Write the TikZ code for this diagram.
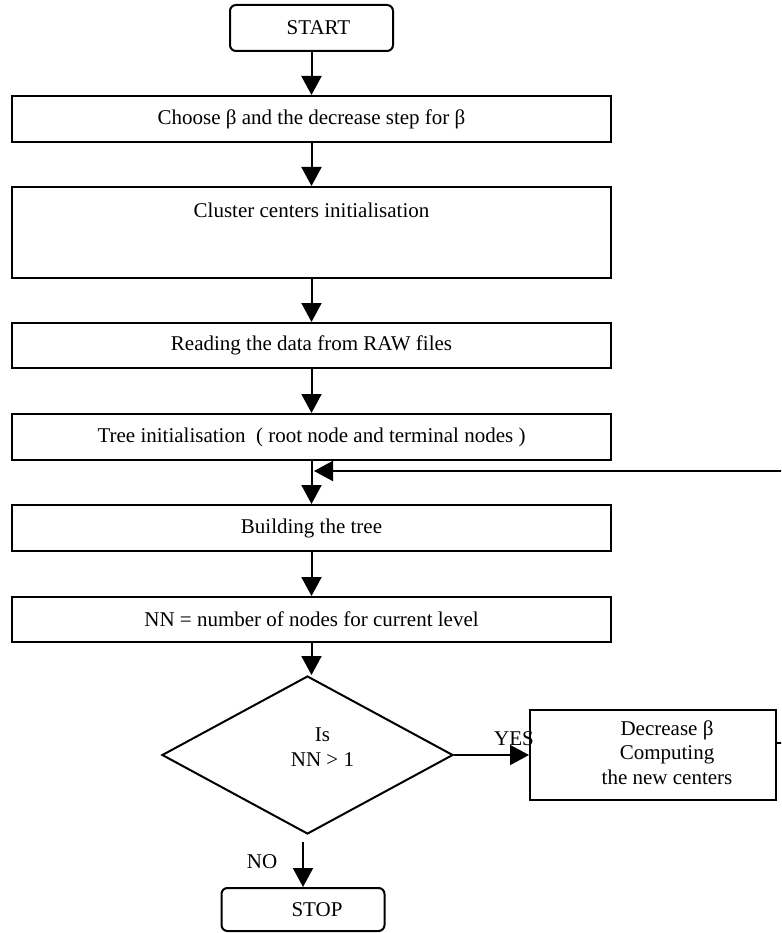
\documentclass[tikz,border=0pt]{standalone}
\usepackage{fontspec}
\setmainfont{Liberation Serif}
\usetikzlibrary{arrows.meta,shapes.geometric}
\begin{document}
\begin{tikzpicture}[x=1pt,y=-1pt,
  every node/.style={font=\fontsize{21}{24.5}\selectfont},
  procbox/.style={draw,line width=2pt,rectangle,inner sep=0pt,minimum width=599pt},
  termbox/.style={draw,line width=2pt,rectangle,rounded corners=6pt,inner sep=0pt,minimum width=163pt},
  txt/.style={inner sep=0pt,align=center},
  flow/.style={line width=2pt,-{Triangle[length=19pt,width=20pt]}}
]
\useasboundingbox (0,0) rectangle (781,933);
\clip (0,0) rectangle (781,933);

\node[termbox,minimum height=46pt] (start) at (311.5,28) {\hspace*{14pt}START};
\node[procbox,minimum height=46pt] (choose) at (311.5,119) {Choose β and the decrease step for β};
\node[procbox,minimum height=91pt] (cluster) at (311.5,232.5) {};
\node[txt] (clustertext) at (311.5,210) {Cluster centers initialisation};
\node[procbox,minimum height=45pt] (reading) at (311.5,345.5) {Reading the data from RAW files};
\node[procbox,minimum height=46pt] (tree) at (311.5,437) {Tree initialisation~ ( root node and terminal nodes )};
\node[procbox,minimum height=46pt] (building) at (311.5,528) {Building the tree};
\node[procbox,minimum height=45pt] (nn) at (311.5,619.5) {NN = number of nodes for current level};
\node[draw,line width=2pt,diamond,aspect=1.84,inner sep=0pt,minimum width=291pt,minimum height=158pt] (dia) at (307.5,755) {};
\node[txt] (diatext) at (322.5,747) {Is\\NN > 1};
\node[draw,line width=2pt,rectangle,inner sep=0pt,minimum width=246pt,minimum height=90pt] (dec) at (653,755) {\hspace*{28pt}\begin{tabular}{@{}c@{}}Decrease β\\Computing\\the new centers\end{tabular}};
\node[termbox,minimum height=43pt] (stop) at (303,909.5) {\hspace*{28pt}STOP};

\node[txt] (yes) at (514,739) {YES};
\node[txt] (no) at (262,862) {NO};

\coordinate (fbend) at (314,471);
\coordinate (fbcorner) at (800,471);

\draw[flow] (start) -- (choose);
\draw[flow] (choose) -- (cluster);
\draw[flow] (cluster) -- (reading);
\draw[flow] (reading) -- (tree);
\draw[flow] (tree) -- (building);
\draw[flow] (building) -- (nn);
\draw[flow] (nn.south) -- (nn.south |- dia.north);
\draw[flow] (dia.east) -- (dia.east -| dec.west);
\draw[flow] ([shift={(-4.5pt,-7pt)}]dia.south) -- (stop.north);
\draw[flow] ([yshift=12pt]dec.east) -| (fbcorner) -- (fbend);
\end{tikzpicture}
\end{document}
